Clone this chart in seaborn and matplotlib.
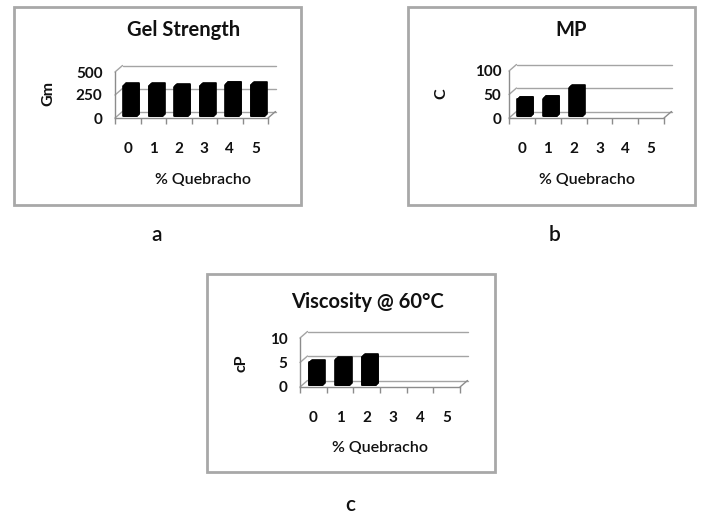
import matplotlib
matplotlib.use("Agg")
import matplotlib.pyplot as plt
import matplotlib.transforms as mtransforms
from matplotlib.patches import Rectangle
from matplotlib.ticker import FixedLocator
import seaborn as sns

# ---- data -------------------------------------------------------------
quebracho = ["0", "1", "2", "3", "4", "5"]

gel_cats = ["0", "1", "2", "3", "4", "5"]
gel_strength = [330, 330, 322, 330, 345, 340]      # Gm

mp_cats = ["0", "1", "2"]
melting_point = [36, 38, 61]                        # C

visc_cats = ["0", "1", "2"]
viscosity = [4.6, 5.2, 5.8]                         # cP at 60 C

gel_ticks = [0, 250, 500]
mp_ticks = [0, 50, 100]
visc_ticks = [0, 5, 10]

# ---- style ------------------------------------------------------------
sns.set_theme(style="white")
plt.rcParams["font.family"] = ["Lato", "DejaVu Sans"]

W, H = 701, 514
fig = plt.figure(figsize=(W / 100, H / 100), dpi=100)

LINE = "#a4a4a4"
AXIS = "#8c8c8c"
TEXT = "#111111"
WALL_DX, WALL_DY = 7.5, 6.5      # depth of the 3-D wall, in pixels

panels = [
    dict(title="Gel Strength", ylabel="Gm", cats=gel_cats, vals=gel_strength,
         ticks=gel_ticks, letter="a",
         box=(14, 7, 301, 205), plot=(115, 268, 118, 72),
         title_xy=(184, 30), ylabel_xy=(48, 94), xlabel_xy=(203, 180),
         letter_xy=(157, 235), ypad=6),
    dict(title="MP", ylabel="C", cats=mp_cats, vals=melting_point,
         ticks=mp_ticks, letter="b",
         box=(408, 7, 695, 205), plot=(509, 664, 118, 71),
         title_xy=(571, 30), ylabel_xy=(441, 94), xlabel_xy=(587, 180),
         letter_xy=(555, 235), ypad=2.5),
    dict(title="Viscosity @ 60°C", ylabel="cP", cats=visc_cats, vals=viscosity,
         ticks=visc_ticks, letter="c",
         box=(207, 274, 495, 472), plot=(300, 460, 387, 338),
         title_xy=(367, 302), ylabel_xy=(241, 363), xlabel_xy=(380, 448),
         letter_xy=(350, 505), ypad=6),
]


def fig_frac(x, y):
    return x / W, 1 - y / H


for p in panels:
    # chart-area frame
    bx0, by0, bx1, by1 = p["box"]
    fx0, fy1 = fig_frac(bx0, by1)
    fig.add_artist(Rectangle((fx0, fy1), (bx1 - bx0) / W, (by1 - by0) / H,
                             transform=fig.transFigure, facecolor="white",
                             edgecolor="#a8a8a8", linewidth=2.0, zorder=0))

    x0, x1, yb, yt = p["plot"]
    ax = fig.add_axes([x0 / W, 1 - yb / H, (x1 - x0) / W, (yb - yt) / H])
    ax.set_facecolor("none")
    ymax = p["ticks"][-1]

    sns.barplot(x=p["cats"], y=p["vals"], order=quebracho, color="black",
                saturation=1, width=0.5, errorbar=None, ax=ax, zorder=3)
    ax.set_xlim(-0.5, 5.5)
    ax.set_ylim(0, ymax)

    # wall depth expressed in data units
    ddx = WALL_DX * 6 / (x1 - x0)
    ddy = WALL_DY * ymax / (yb - yt)

    # back wall gridlines and side-wall diagonals
    for v in p["ticks"]:
        ax.plot([-0.5 + ddx, 5.5 + ddx], [v + ddy, v + ddy], color=LINE,
                lw=1.0, clip_on=False, zorder=1)
        ax.plot([-0.5, -0.5 + ddx], [v, v + ddy], color=LINE,
                lw=1.0, clip_on=False, zorder=1)
    # right edge of the floor
    ax.plot([5.5, 5.5 + ddx], [0, ddy], color=AXIS, lw=1.0,
            clip_on=False, zorder=2)

    # extruded 3-D columns built from the seaborn bars
    bars = list(ax.patches)
    n_steps = 6
    for bar in bars:
        bar.set_clip_on(False)
        for k in range(n_steps, 0, -1):
            off = mtransforms.offset_copy(
                ax.transData, fig=fig,
                x=(0.25 + 0.4 * k / n_steps) * WALL_DX,
                y=(0.25 + 0.4 * k / n_steps) * WALL_DY, units="dots")
            ax.add_patch(Rectangle(bar.get_xy(), bar.get_width(),
                                   bar.get_height(), transform=off,
                                   facecolor="black", edgecolor="black",
                                   linewidth=1.2, joinstyle="round",
                                   clip_on=False, zorder=2.5))
        bar.set_transform(mtransforms.offset_copy(
            ax.transData, fig=fig, x=0.25 * WALL_DX, y=0.25 * WALL_DY,
            units="dots"))
        bar.set_edgecolor("black")
        bar.set_linewidth(1.2)
        bar.set_joinstyle("round")

    # front axes
    sns.despine(ax=ax, top=True, right=True)
    for side in ("left", "bottom"):
        ax.spines[side].set_color(AXIS)
        ax.spines[side].set_linewidth(1.0)
        ax.spines[side].set_zorder(4)
    ax.set_yticks(p["ticks"])
    ax.set_yticklabels([str(t) for t in p["ticks"]])
    ax.tick_params(axis="y", length=3, width=1.0, color=AXIS,
                   pad=p["ypad"], labelsize=11, labelcolor=TEXT)
    ax.set_xticks(range(6))
    ax.set_xticklabels(quebracho)
    ax.xaxis.set_minor_locator(FixedLocator([i - 0.5 for i in range(7)]))
    ax.tick_params(axis="x", which="major", length=0, pad=17.5,
                   labelsize=11, labelcolor=TEXT)
    ax.tick_params(axis="x", which="minor", length=4, width=1.0,
                   color=AXIS, bottom=True)
    for lab in ax.get_xticklabels() + ax.get_yticklabels():
        lab.set_fontweight("bold")

    def ax_frac(px, py):
        return (px - x0) / (x1 - x0), (yb - py) / (yb - yt)

    tx, ty = ax_frac(*p["title_xy"])
    ax.set_title(p["title"], x=tx, y=ty, va="center", pad=0,
                 fontsize=14.5, fontweight="bold", color=TEXT)
    ax.set_xlabel("% Quebracho", fontsize=11.5, fontweight="semibold",
                  color=TEXT)
    ax.xaxis.set_label_coords(*ax_frac(*p["xlabel_xy"]))
    ax.xaxis.label.set_va("center")
    ax.set_ylabel(p["ylabel"], fontsize=11.5, fontweight="bold", color=TEXT)
    ax.yaxis.set_label_coords(*ax_frac(*p["ylabel_xy"]))
    ax.yaxis.label.set_va("center")

    lx, ly = fig_frac(*p["letter_xy"])
    fig.text(lx, ly, p["letter"], ha="center", va="center", fontsize=15,
             fontweight="semibold", color=TEXT)

fig.savefig("out.png", dpi=100)
